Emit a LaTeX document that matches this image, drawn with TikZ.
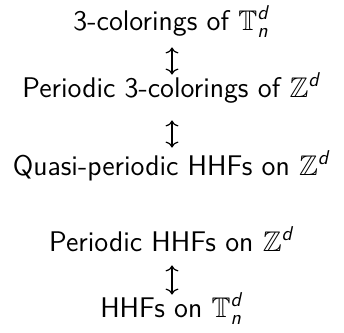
\documentclass[tikz,border=0pt]{standalone}
\usepackage{amssymb}
\usetikzlibrary{arrows.meta}
\DeclareMathAlphabet{\mathsfsl}{OT1}{cmss}{m}{sl}
\begin{document}
\begin{tikzpicture}[x=0.5pt,y=-0.5pt,
  every node/.style={inner sep=0pt,anchor=base,text height=11pt,text depth=4pt,
    font=\sffamily\fontsize{14.2}{17}\selectfont},
  eqv/.style={{Computer Modern Rightarrow[width=6.5pt,length=3pt]}-{Computer Modern Rightarrow[width=6.5pt,length=3pt]},line width=0.6pt}]
      \useasboundingbox (0,0) rectangle (344,333);

      % LINES
      \node (tor)  at (172,30)  {3-colorings of $\mathbb{T}_{\mathsfsl{n}}^{\mathsfsl{d}}$};
      \node (per)  at (172,97)  {Periodic 3-colorings of $\mathbb{Z}^{\mathsfsl{d}}$};
      \node (qp)   at (172,175) {Quasi-periodic HHFs on $\mathbb{Z}^{\mathsfsl{d}}$};

      \node (phhf) at (172,251) {Periodic HHFs on $\mathbb{Z}^{\mathsfsl{d}}$};
      \node (thhf) at (172,317) {HHFs on $\mathbb{T}_{\mathsfsl{n}}^{\mathsfsl{d}}$};

      % ARROWS
      \draw[eqv,shorten <=4.5pt,shorten >=0pt]   (tor.south) -- (per.north);
      \draw[eqv,shorten <=7.5pt,shorten >=2.5pt] (per.south) -- (qp.north);
      \draw[eqv,shorten <=3pt,shorten >=0pt]     (phhf.south) -- (thhf.north);
\end{tikzpicture}
\end{document}
